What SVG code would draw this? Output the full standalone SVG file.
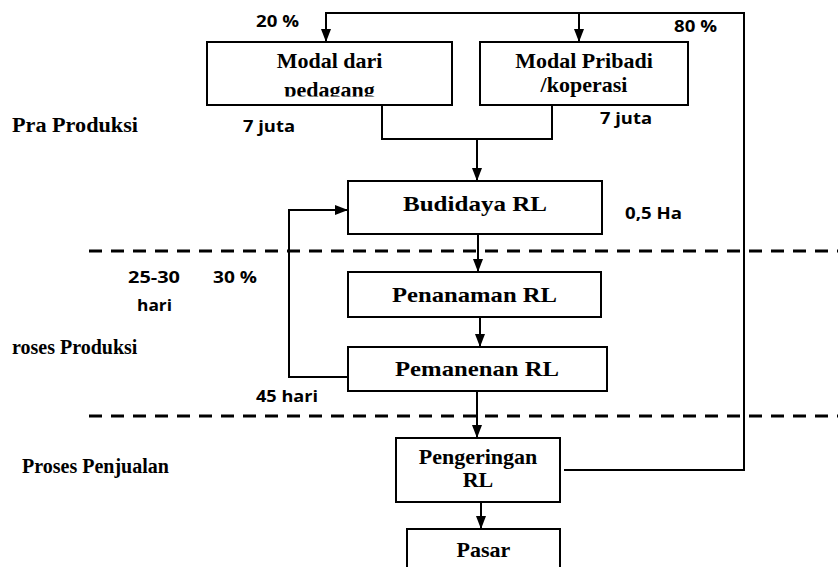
<svg xmlns="http://www.w3.org/2000/svg" width="838" height="567" viewBox="0 0 838 567">
<style>
.box{fill:#fff;stroke:#000;stroke-width:2}
.bt{font-family:"Liberation Serif","Times New Roman",serif;font-weight:bold;font-size:22px;fill:#000;text-anchor:middle}
.side{font-family:"Liberation Serif","Times New Roman",serif;font-weight:bold;font-size:20px;fill:#000}
.lab{font-family:"Open Sans","DejaVu Sans",sans-serif;font-weight:bold;font-size:16px;fill:#000}
.ln{fill:none;stroke:#000;stroke-width:2}
.arr{fill:none;stroke:#000;stroke-width:2;marker-end:url(#ah)}
.dash{fill:none;stroke:#000;stroke-width:3;stroke-dasharray:13 9}
</style>
<defs>
<marker id="ah" viewBox="0 0 13 10" refX="13" refY="5" markerWidth="13" markerHeight="10" markerUnits="userSpaceOnUse" orient="auto">
<path d="M0,0 L13,5 L0,10 z" fill="#000"/>
</marker>
<clipPath id="clipPed"><rect x="207" y="42" width="245" height="54.5"/></clipPath>
</defs>
<rect width="838" height="567" fill="#fff"/>

<g id="dividers">
<path class="dash" d="M89,251 H838"/>
<path class="dash" d="M89,416 H838"/>
</g>

<g id="connectors">
<path class="ln" d="M564,470 H744 V13 H326 V28"/>
<path class="arr" d="M326,20 V42"/>
<path class="arr" d="M579,13 V42"/>
<path class="ln" d="M382,105 V139 H552 V105"/>
<path class="arr" d="M477,139 V181"/>
<path class="arr" d="M478,234 V272"/>
<path class="arr" d="M480,317 V347"/>
<path class="arr" d="M348,377 H289 V210 H348"/>
<path class="arr" d="M477,391 V438"/>
<path class="arr" d="M481,502 V529"/>
</g>

<g id="modal-pedagang">
<rect class="box" x="207" y="42" width="245" height="63"/>
<text class="bt" x="329.5" y="68">Modal dari</text>
<text class="bt" x="329.5" y="97" clip-path="url(#clipPed)">pedagang</text>
</g>
<g id="modal-pribadi">
<rect class="box" x="480" y="42" width="208" height="63"/>
<text class="bt" x="584" y="68">Modal Pribadi</text>
<text class="bt" x="584" y="92">/koperasi</text>
</g>
<g id="budidaya">
<rect class="box" x="348" y="181" width="254" height="53"/>
<text class="bt" x="475" y="211" textLength="144" lengthAdjust="spacingAndGlyphs">Budidaya RL</text>
</g>
<g id="penanaman">
<rect class="box" x="348" y="272" width="253" height="45"/>
<text class="bt" x="474.5" y="302" textLength="165" lengthAdjust="spacingAndGlyphs">Penanaman RL</text>
</g>
<g id="pemanenan">
<rect class="box" x="348" y="347" width="259" height="44"/>
<text class="bt" x="477" y="376" textLength="164" lengthAdjust="spacingAndGlyphs">Pemanenan RL</text>
</g>
<g id="pengeringan">
<rect class="box" x="396" y="438" width="164" height="64"/>
<text class="bt" x="478" y="464">Pengeringan</text>
<text class="bt" x="478" y="487">RL</text>
</g>
<g id="pasar">
<rect class="box" x="407" y="529" width="153" height="60"/>
<text class="bt" x="483.5" y="557">Pasar</text>
</g>

<g id="labels">
<text class="lab" x="256" y="27" textLength="43" lengthAdjust="spacingAndGlyphs">20 %</text>
<text class="lab" x="674" y="32" textLength="43" lengthAdjust="spacingAndGlyphs">80 %</text>
<text class="lab" x="243" y="132" textLength="52" lengthAdjust="spacingAndGlyphs">7 juta</text>
<text class="lab" x="600" y="124" textLength="52" lengthAdjust="spacingAndGlyphs">7 juta</text>
<text class="lab" x="625" y="219" textLength="57" lengthAdjust="spacingAndGlyphs">0,5 Ha</text>
<text class="lab" x="128" y="283" textLength="52" lengthAdjust="spacingAndGlyphs">25-30</text>
<text class="lab" x="137" y="311" textLength="35" lengthAdjust="spacingAndGlyphs">hari</text>
<text class="lab" x="213" y="283" textLength="44" lengthAdjust="spacingAndGlyphs">30 %</text>
<text class="lab" x="256" y="402" textLength="62" lengthAdjust="spacingAndGlyphs">45 hari</text>
<text class="side" x="12" y="132" textLength="126" lengthAdjust="spacingAndGlyphs">Pra Produksi</text>
<text class="side" x="12" y="354">roses Produksi</text>
<text class="side" x="22" y="473">Proses Penjualan</text>
</g>
</svg>
